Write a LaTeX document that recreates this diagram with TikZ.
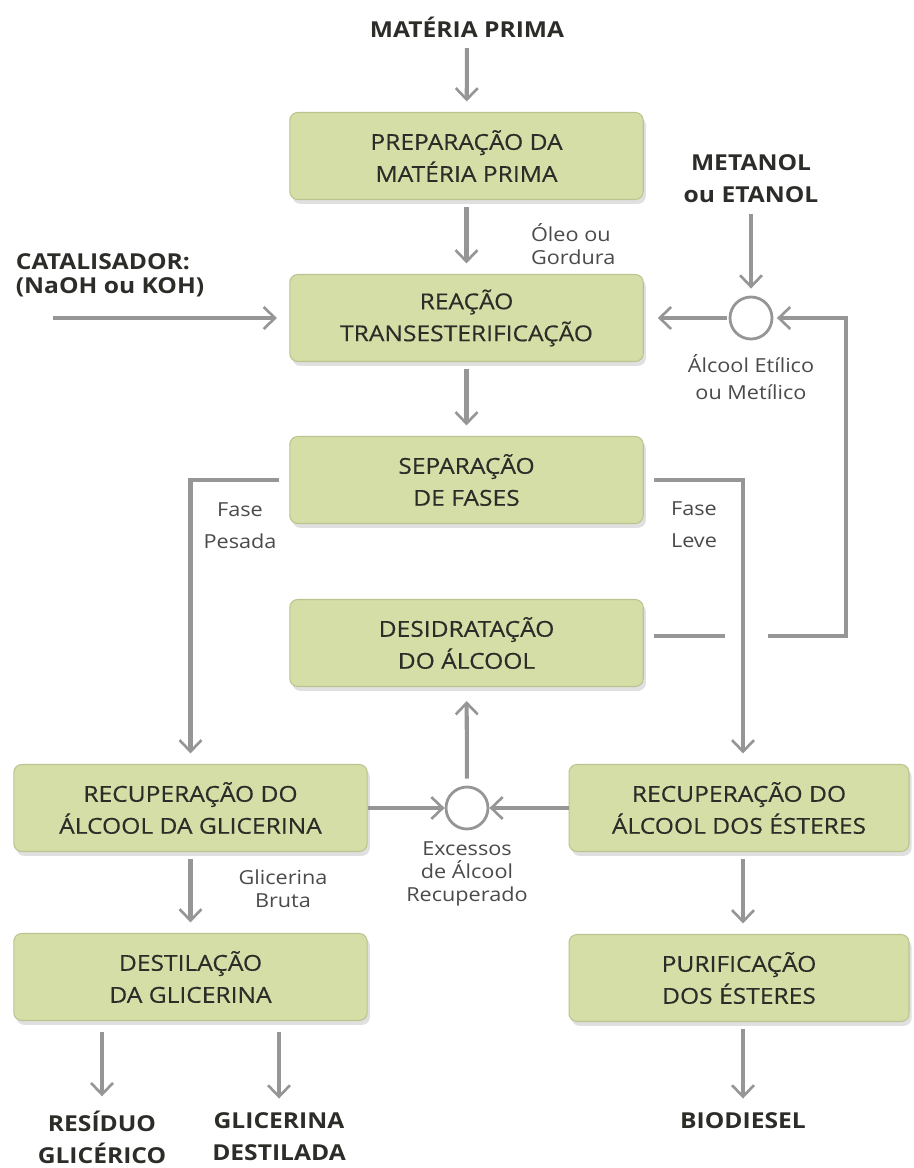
\documentclass[tikz,border=0pt]{standalone}
\usepackage{fontspec}
\setmainfont{Open Sans}[FakeStretch=1.12]
\newfontfamily\boxfam{Open Sans}[FakeStretch=1.12,FakeBold=0.35]
\usetikzlibrary{arrows.meta,shadows}
\definecolor{boxgreen}{HTML}{D6DEA8}
\definecolor{boxline}{HTML}{BCC38F}
\definecolor{flowgray}{HTML}{969696}
\definecolor{txtdark}{HTML}{2C2C28}
\definecolor{txtsoft}{HTML}{4A4A4A}
\newcommand{\boxfont}{\fontsize{12.5}{18.2}\selectfont}
\newcommand{\lblfont}{\fontsize{11}{13.2}\selectfont}
\tikzstyle{arrow} = [line width=2.3pt, flowgray, -{Straight Barb[length=6.5pt,width=12.5pt,line width=1.5pt]}, shorten <=4pt, shorten >=6pt]
\tikzstyle{line} = [line width=2.3pt, flowgray]
\tikzstyle{procbox} = [rectangle, rounded corners=4.5pt, minimum width=7.07cm, minimum height=1.74cm, fill=boxgreen, draw=boxline, line width=0.6pt, align=center, text=txtdark, font=\boxfont\boxfam, drop shadow={shadow xshift=1.5pt, shadow yshift=-2.5pt, opacity=0.12, fill=black}]
\tikzstyle{mixer} = [circle, minimum size=0.84cm, inner sep=0pt, draw=flowgray, line width=1.6pt, fill=white]
\tikzstyle{hdr} = [align=center, text=txtdark, font=\boxfont\bfseries, inner sep=2pt]
\tikzstyle{lbl} = [align=center, text=txtsoft, font=\lblfont, inner sep=1pt]

\begin{document}
\begin{tikzpicture}[x=0.02cm,y=-0.02cm]
\useasboundingbox (0,0) rectangle (913,1168);
% caixas
\node[procbox] (prep) at (466.5,156) {PREPARAÇÃO DA\\MATÉRIA PRIMA};
\node[procbox] (reac) at (466.5,318) {REAÇÃO\\TRANSESTERIFICAÇÃO};
\node[procbox] (sep) at (466.5,480) {SEPARAÇÃO\\DE FASES};
\node[procbox] (desid) at (466.5,643) {DESIDRATAÇÃO\\DO ÁLCOOL};
\node[procbox] (recglic) at (190.5,808) {RECUPERAÇÃO DO\\ÁLCOOL DA GLICERINA};
\node[procbox, minimum width=6.8cm] (receste) at (739,808) {RECUPERAÇÃO DO\\ÁLCOOL DOS ÉSTERES};
\node[procbox] (destil) at (190.5,977) {DESTILAÇÃO\\DA GLICERINA};
\node[procbox, minimum width=6.8cm] (purif) at (739,978) {PURIFICAÇÃO\\DOS ÉSTERES};
\node[mixer] (mix1) at (751,318) {};
\node[mixer] (mix2) at (467,808) {};
% entradas e produtos
\node[hdr] (mp) at (467,27) {MATÉRIA PRIMA};
\node[hdr] (met) at (751,179) {METANOL\\ou ETANOL};
\node[hdr, align=left, anchor=west, font=\fontsize{12.5}{13.6}\selectfont\bfseries] (cat) at (12,275) {CATALISADOR:\\(NaOH ou KOH)};
\node[hdr] (res) at (102,1137) {RESÍDUO\\GLICÉRICO};
\node[hdr] (gdest) at (279,1137) {GLICERINA\\DESTILADA};
\node[hdr] (bio) at (743,1121) {BIODIESEL};
% rotulos
\node[lbl, align=left, anchor=west] (oleo) at (529,244) {Óleo ou\\Gordura};
\node[lbl, font=\fontsize{11}{15.4}\selectfont] (alc) at (751,377) {Álcool Etílico\\ou Metílico};
\node[lbl, font=\fontsize{11}{18.2}\selectfont] (fasep) at (240,526) {Fase\\Pesada};
\node[lbl, font=\fontsize{11}{18.2}\selectfont] (fasel) at (694,525) {Fase\\Leve};
\node[lbl] (exc) at (467,874) {Excessos\\de Álcool\\Recuperado};
\node[lbl] (glib) at (283,889) {Glicerina\\Bruta};
\coordinate (catin) at (53,318);
\coordinate (gapA) at (725,636);
\coordinate (gapB) at (768,636);
\coordinate (ret) at (846,636);
% fluxos
\draw[arrow] (mp) -- (prep);
\draw[arrow] (prep) -- (reac);
\draw[arrow] (reac) -- (sep);
\draw[arrow, shorten <=0pt, shorten >=7pt] (catin) -- (reac.west);
\draw[arrow, shorten <=4pt, shorten >=4pt] (met) -- (mix1);
\draw[arrow, shorten <=1pt, shorten >=8pt] (mix1) -- (reac.east);
\draw[line, shorten <=6pt] (desid.east |- gapA) -- (gapA);
\draw[arrow, shorten <=0pt, shorten >=2pt] (gapB) -- (ret) |- (mix1);
\draw[arrow, shorten <=6pt, shorten >=6pt] (sep.west) -| (recglic.north);
\draw[arrow, shorten <=6pt, shorten >=6pt] (sep.east) -| (receste.north -| bio);
\draw[arrow, shorten <=0pt, shorten >=0pt] (recglic) -- (mix2);
\draw[arrow, shorten <=0pt, shorten >=0pt] (receste) -- (mix2);
\draw[arrow, shorten <=4pt, shorten >=8pt] (mix2) -- (desid);
\draw[arrow] (recglic) -- (destil);
\draw[arrow, shorten <=6pt] (destil.south -| res) -- (res);
\draw[arrow, shorten <=6pt] (destil.south -| gdest) -- (gdest);
\draw[arrow] (receste.south -| bio) -- (purif.north -| bio);
\draw[arrow] (purif.south -| bio) -- (bio);
\end{tikzpicture}
\end{document}
